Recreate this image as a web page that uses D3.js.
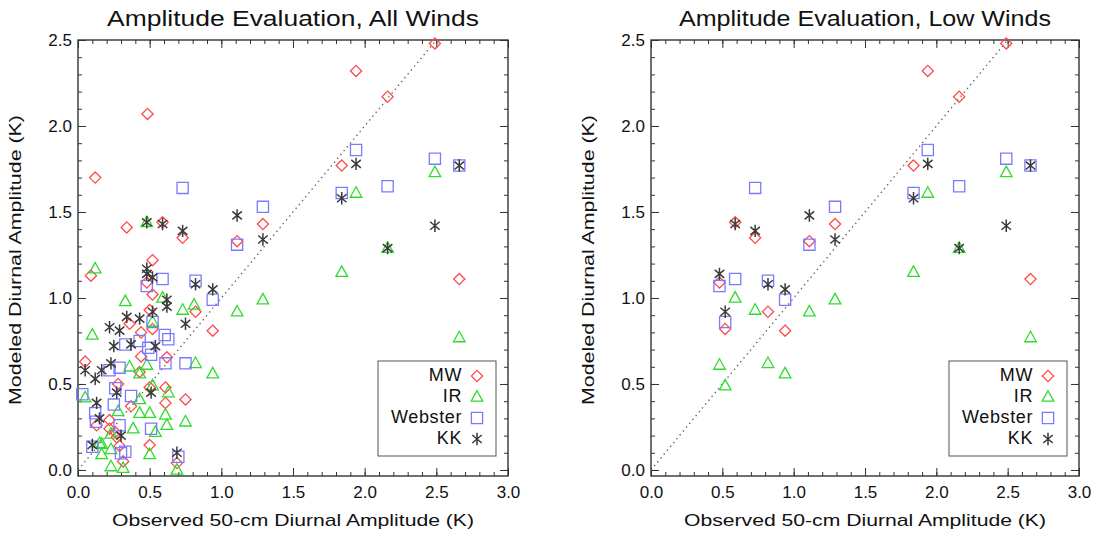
<!DOCTYPE html>
<html><head><meta charset="utf-8">
<script src="https://cdn.jsdelivr.net/npm/d3@7"></script>
<style>
body{margin:0;background:#fff}
svg text{font-family:"Liberation Sans",Arial,Helvetica,sans-serif;fill:#111}
</style>
</head><body>
<svg id="chart" width="1099" height="533"></svg>
<script>
// ---------------- data ----------------
const seriesNames = ["MW", "IR", "Webster", "KK"];
const xTickValues = [0, 0.5, 1.0, 1.5, 2.0, 2.5, 3.0];
const yTickValues = [0, 0.5, 1.0, 1.5, 2.0, 2.5];
const panelTitles = ["Amplitude Evaluation, All Winds", "Amplitude Evaluation, Low Winds"];
const xTitle = "Observed 50-cm Diurnal Amplitude (K)";
const yTitle = "Modeled Diurnal Amplitude (K)";

// Low-wind cases (shared observed amplitude)
const lowObs     = [0.48, 0.52, 0.59, 0.73, 0.82, 0.94, 1.11, 1.29, 1.84, 1.94, 2.16, 2.49, 2.66];
const lowMW      = [1.09, 0.82, 1.44, 1.35, 0.92, 0.81, 1.33, 1.43, 1.77, 2.32, 2.17, 2.48, 1.11];
const lowIR      = [0.61, 0.49, 1.00, 0.93, 0.62, 0.56, 0.92, 0.99, 1.15, 1.61, 1.29, 1.73, 0.77];
const lowWebster = [1.07, 0.86, 1.11, 1.64, 1.10, 0.99, 1.31, 1.53, 1.61, 1.86, 1.65, 1.81, 1.77];
const lowKK      = [1.14, 0.92, 1.43, 1.39, 1.08, 1.05, 1.48, 1.34, 1.58, 1.78, 1.29, 1.42, 1.77];

// Additional (non low-wind) cases shown only in the All Winds panel: [observed, modeled]
const extraMW = [[0.485,2.07],[0.12,1.70],[0.34,1.41],[0.52,1.22],[0.09,1.13],[0.52,1.02],[0.50,0.93],
  [0.36,0.85],[0.44,0.80],[0.05,0.63],[0.44,0.66],[0.62,0.655],[0.43,0.57],[0.28,0.50],[0.50,0.48],
  [0.61,0.48],[0.75,0.41],[0.61,0.39],[0.37,0.37],[0.13,0.26],[0.22,0.29],[0.22,0.24],[0.26,0.22],
  [0.27,0.19],[0.29,0.14],[0.50,0.145],[0.69,0.04],[0.315,0.05]];
const extraIR = [[0.48,1.44],[0.12,1.17],[0.33,0.98],[0.52,0.86],[0.10,0.785],[0.36,0.60],[0.43,0.56],
  [0.63,0.45],[0.05,0.42],[0.43,0.41],[0.28,0.34],[0.43,0.33],[0.50,0.33],[0.61,0.32],[0.75,0.28],
  [0.385,0.24],[0.54,0.22],[0.62,0.26],[0.23,0.21],[0.165,0.15],[0.23,0.12],[0.165,0.09],[0.50,0.09],
  [0.69,0.0],[0.23,0.02],[0.315,0.01],[0.15,0.155],[0.81,0.96]];
const extraWebster = [[0.605,0.785],[0.63,0.76],[0.33,0.73],[0.49,0.71],[0.43,0.75],[0.51,0.67],
  [0.29,0.595],[0.22,0.58],[0.61,0.62],[0.75,0.62],[0.26,0.475],[0.37,0.43],[0.03,0.44],[0.12,0.33],
  [0.25,0.38],[0.125,0.28],[0.29,0.26],[0.51,0.24],[0.10,0.135],[0.33,0.106],[0.70,0.077],[0.30,0.097]];
const extraKK = [[0.48,1.44],[0.48,1.17],[0.52,1.12],[0.62,0.99],[0.62,0.95],[0.34,0.89],[0.43,0.88],
  [0.22,0.83],[0.29,0.81],[0.75,0.85],[0.37,0.73],[0.25,0.72],[0.54,0.72],[0.23,0.62],[0.05,0.58],
  [0.165,0.58],[0.12,0.53],[0.27,0.45],[0.51,0.45],[0.13,0.39],[0.15,0.30],[0.30,0.20],[0.10,0.145],[0.69,0.10]];

// ---------------- styling ----------------
const colors = {MW: "#ff4a4a", IR: "#2edc2e", Webster: "#7a7aff", KK: "#3a3a3a"};

const svg = d3.select("#chart");

function markerPath(name, cx, cy) {
  if (name === "MW") { const r = 5.6; return `M${cx},${cy-r}L${cx+r},${cy}L${cx},${cy+r}L${cx-r},${cy}Z`; }
  if (name === "IR") { const w = 5.8, h = 10.5; return `M${cx},${cy-h*0.6}L${cx+w},${cy+h*0.4}L${cx-w},${cy+h*0.4}Z`; }
  if (name === "Webster") { const s = 5.6; return `M${cx-s},${cy-s}H${cx+s}V${cy+s}H${cx-s}Z`; }
  // asterisk
  const r = 6.2; let p = "";
  [90, 40, 140].forEach(a => {
    const dx = r * Math.cos(a * Math.PI / 180), dy = r * Math.sin(a * Math.PI / 180);
    p += `M${cx-dx},${cy-dy}L${cx+dx},${cy+dy}`;
  });
  return p;
}

function drawPanel(x0, x1, title, series) {
  const top = 40, bottom = 476;
  const x = d3.scaleLinear().domain([0, 3]).range([x0, x1]);
  const y = d3.scaleLinear().domain([-0.035, 2.5]).range([bottom, top]);
  const g = svg.append("g");
  const minorX = d3.range(0, 31).map(i => i / 10);
  const minorY = d3.range(0, 26).map(i => i / 10);

  const sides = [
    {make: () => d3.axisBottom(x), tr: `translate(0,${bottom})`, minor: minorX, major: xTickValues, labels: true, pad: 10},
    {make: () => d3.axisTop(x), tr: `translate(0,${top})`, minor: minorX, major: xTickValues, labels: false, pad: 6},
    {make: () => d3.axisLeft(y), tr: `translate(${x0},0)`, minor: minorY, major: yTickValues, labels: true, pad: 6},
    {make: () => d3.axisRight(y), tr: `translate(${x1},0)`, minor: minorY, major: yTickValues, labels: false, pad: 6}
  ];
  sides.forEach(sd => {
    g.append("g").attr("transform", sd.tr)
      .call(sd.make().tickValues(sd.minor).tickSize(-4).tickFormat(""))
      .call(s => { s.select(".domain").remove(); s.selectAll("line").attr("stroke", "#333").attr("stroke-width", 1); });
    const mg = g.append("g").attr("transform", sd.tr)
      .call(sd.make().tickValues(sd.major).tickSize(-8).tickPadding(sd.pad)
        .tickFormat(sd.labels ? d3.format(".1f") : ""))
      .call(s => { s.select(".domain").remove(); s.selectAll("line").attr("stroke", "#333").attr("stroke-width", 1); });
    mg.selectAll("text").attr("font-size", 17).attr("fill", "#111")
      .attr("font-family", '"Liberation Sans",Arial,sans-serif');
  });

  // box
  g.append("rect").attr("x", x0).attr("y", top).attr("width", x1 - x0).attr("height", bottom - top)
    .attr("fill", "none").attr("stroke", "#333").attr("stroke-width", 1.4);

  // 1:1 dotted line
  g.append("line").attr("x1", x(0)).attr("y1", y(0)).attr("x2", x(2.5)).attr("y2", y(2.5))
    .attr("stroke", "#666").attr("stroke-width", 1.4).attr("stroke-dasharray", "1.4 3.6");

  // points
  seriesNames.forEach(name => {
    g.append("g").selectAll("path").data(series[name]).join("path")
      .attr("d", d => markerPath(name, x(d[0]), y(d[1])))
      .attr("fill", "none").attr("stroke", colors[name])
      .attr("stroke-width", name === "KK" ? 1.5 : 1.3);
  });

  // titles
  g.append("text").attr("x", (x0 + x1) / 2).attr("y", 26).attr("text-anchor", "middle")
    .attr("font-size", 22).attr("textLength", 372).attr("lengthAdjust", "spacingAndGlyphs").text(title);
  g.append("text").attr("x", (x0 + x1) / 2).attr("y", 526).attr("text-anchor", "middle")
    .attr("font-size", 17).attr("textLength", 362).attr("lengthAdjust", "spacingAndGlyphs").text(xTitle);
  g.append("text").attr("transform", `translate(${x0 - 57},${(top + bottom) / 2 + 2}) rotate(-90)`)
    .attr("text-anchor", "middle").attr("font-size", 17).attr("textLength", 290)
    .attr("lengthAdjust", "spacingAndGlyphs").text(yTitle);

  // legend
  const lx0 = x1 - 130, lx1 = x1 - 12, ly0 = 361, ly1 = 456;
  g.append("rect").attr("x", lx0).attr("y", ly0).attr("width", lx1 - lx0).attr("height", ly1 - ly0)
    .attr("fill", "#fff").attr("stroke", "#555").attr("stroke-width", 1);
  seriesNames.forEach((name, i) => {
    const cy = 375 + i * 21;
    g.append("text").attr("x", x1 - 46).attr("y", cy + 6).attr("text-anchor", "end")
      .attr("font-size", 18).attr("letter-spacing", 0.6).text(name);
    g.append("path").attr("d", markerPath(name, x1 - 31, cy + 1)).attr("fill", "none")
      .attr("stroke", colors[name]).attr("stroke-width", name === "KK" ? 1.5 : 1.3);
  });
}

const lowSeries = {
  MW: lowObs.map((o, i) => [o, lowMW[i]]),
  IR: lowObs.map((o, i) => [o, lowIR[i]]),
  Webster: lowObs.map((o, i) => [o, lowWebster[i]]),
  KK: lowObs.map((o, i) => [o, lowKK[i]])
};
const allSeries = {
  MW: lowSeries.MW.concat(extraMW),
  IR: lowSeries.IR.concat(extraIR),
  Webster: lowSeries.Webster.concat(extraWebster),
  KK: lowSeries.KK.concat(extraKK)
};

drawPanel(78, 508, panelTitles[0], allSeries);
drawPanel(651, 1079, panelTitles[1], lowSeries);
</script>
</body></html>
